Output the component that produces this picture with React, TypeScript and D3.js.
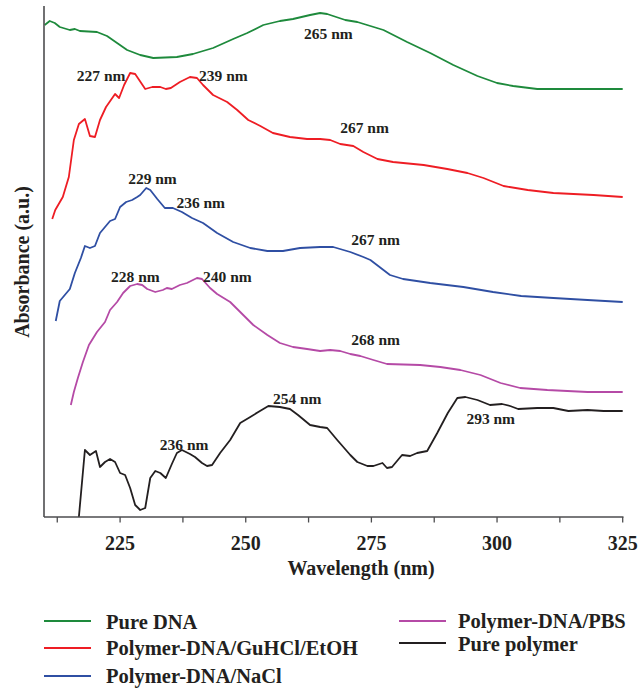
import * as d3 from 'd3';

// wavelength (nm) sample points for each trace
const dnaWl = [210, 211, 212, 213, 215, 216, 217, 220.4, 222.4, 224.4, 226.4, 229, 231.6, 236.3, 239.5, 243.5, 247.5, 250.3, 253.5, 256.8, 259.4, 262.8, 264.8, 266.2, 267.4, 269.8, 272.2, 277.4, 282.1, 286.7, 291.3, 296.1, 300, 303.2, 308, 314.6, 325];
const dnaAbs = [4.92, 4.96, 4.94, 4.9, 4.87, 4.88, 4.86, 4.85, 4.81, 4.74, 4.67, 4.62, 4.59, 4.6, 4.63, 4.69, 4.78, 4.84, 4.92, 4.96, 4.98, 5.02, 5.04, 5.03, 5.01, 4.97, 4.95, 4.87, 4.75, 4.64, 4.52, 4.41, 4.34, 4.31, 4.28, 4.28, 4.28];

const guWl = [211.5, 212.1, 213.6, 214.8, 215.8, 216.8, 218, 219, 220, 221, 222.2, 224, 224.8, 225.8, 227, 228, 230, 231.4, 233, 234.1, 235.1, 236.9, 238.9, 240.3, 241.5, 243.5, 246.3, 248.3, 250.5, 252.9, 255.4, 258.8, 262.2, 264.8, 266.8, 268.8, 271.4, 273.4, 276.2, 279.3, 285.4, 290.1, 294.1, 297.3, 301.3, 306.1, 311.2, 319.2, 325];
const guAbs = [2.98, 3.07, 3.2, 3.4, 3.77, 3.93, 3.98, 3.81, 3.8, 3.97, 4.1, 4.23, 4.19, 4.32, 4.44, 4.43, 4.28, 4.3, 4.3, 4.28, 4.29, 4.35, 4.4, 4.39, 4.32, 4.22, 4.15, 4.07, 3.97, 3.91, 3.84, 3.8, 3.78, 3.78, 3.77, 3.73, 3.71, 3.65, 3.58, 3.55, 3.52, 3.48, 3.44, 3.39, 3.31, 3.27, 3.24, 3.22, 3.2];

const naclWl = [212.2, 213, 215, 216, 217.2, 218, 219, 220, 221, 223, 224, 225, 226.2, 227.4, 228.4, 229, 230.2, 231, 232.4, 233.9, 235.5, 237.3, 239.3, 241.5, 244.3, 247.5, 250.9, 254.3, 257.4, 260.8, 264.8, 267.4, 270.8, 273.4, 274.8, 278.7, 281.3, 286.7, 293.3, 299.2, 304.8, 311.2, 318, 325];
const naclAbs = [1.96, 2.16, 2.28, 2.44, 2.59, 2.71, 2.69, 2.71, 2.84, 2.96, 2.98, 3.1, 3.15, 3.17, 3.2, 3.22, 3.29, 3.27, 3.18, 3.09, 3.09, 3.05, 2.99, 2.94, 2.84, 2.75, 2.69, 2.66, 2.66, 2.69, 2.7, 2.7, 2.65, 2.6, 2.57, 2.42, 2.38, 2.34, 2.3, 2.25, 2.21, 2.19, 2.17, 2.15];

const pbsWl = [215.2, 215.8, 216.6, 217.6, 218.8, 220.4, 222, 223, 224.4, 225.6, 227, 228.4, 229.4, 230.4, 232, 233.5, 234.3, 235.3, 236.9, 238.3, 240.3, 241.3, 242.9, 244.3, 246.9, 248.9, 251.5, 254.3, 256.8, 259.4, 262.2, 264.8, 266.8, 268.8, 270.8, 272.8, 275.4, 278.1, 284.7, 288.7, 292.7, 296.7, 300.7, 304.6, 310, 318, 325];
const pbsAbs = [1.12, 1.25, 1.39, 1.55, 1.72, 1.85, 1.95, 2.07, 2.15, 2.24, 2.31, 2.33, 2.32, 2.28, 2.25, 2.27, 2.29, 2.28, 2.32, 2.34, 2.39, 2.38, 2.29, 2.23, 2.15, 2.05, 1.92, 1.82, 1.74, 1.7, 1.68, 1.66, 1.67, 1.66, 1.63, 1.61, 1.57, 1.53, 1.52, 1.5, 1.47, 1.42, 1.34, 1.29, 1.27, 1.25, 1.25];

const polyWl = [216.8, 218, 219, 220.2, 221, 222, 223, 224, 225, 226, 227, 228, 229, 230, 231, 232, 233, 234.1, 235.3, 236.3, 237.3, 238.9, 239.9, 241.3, 242.3, 243.3, 244.9, 246.9, 248.9, 250.9, 252.5, 254.5, 256.8, 258.8, 260.4, 262.8, 264.8, 266.2, 268.2, 270.8, 272.2, 274.2, 275.4, 277.2, 278.1, 279.1, 281.1, 282.7, 284.1, 286.1, 288.1, 290.2, 292.1, 293.7, 296.1, 298.6, 301, 302.6, 304.2, 308, 311.2, 314.2, 318, 321.2, 325];
const polyAbs = [0, 0.67, 0.62, 0.66, 0.5, 0.55, 0.58, 0.55, 0.44, 0.42, 0.29, 0.12, 0.07, 0.09, 0.39, 0.46, 0.44, 0.39, 0.53, 0.64, 0.67, 0.63, 0.6, 0.54, 0.51, 0.52, 0.64, 0.77, 0.94, 1.0, 1.05, 1.11, 1.1, 1.08, 1.02, 0.92, 0.9, 0.89, 0.77, 0.62, 0.55, 0.51, 0.51, 0.54, 0.49, 0.5, 0.62, 0.61, 0.64, 0.66, 0.84, 1.04, 1.19, 1.2, 1.17, 1.12, 1.13, 1.11, 1.08, 1.09, 1.09, 1.06, 1.07, 1.06, 1.06];

const seriesNames = ['Pure DNA', 'Polymer-DNA/GuHCl/EtOH', 'Polymer-DNA/NaCl', 'Polymer-DNA/PBS', 'Pure polymer'];
const seriesColors = ['#1e8a3c', '#ee1d24', '#2f4fa3', '#b54aa6', '#231f20'];
const seriesWl = [dnaWl, guWl, naclWl, pbsWl, polyWl];
const seriesAbs = [dnaAbs, guAbs, naclAbs, pbsAbs, polyAbs];

// peak annotations: label, wavelength, absorbance position of text
const peakLabels = ['265 nm', '227 nm', '239 nm', '267 nm', '229 nm', '236 nm', '267 nm', '228 nm', '240 nm', '268 nm', '254 nm', '236 nm', '293 nm'];
const peakWl = [261.6, 216.4, 240.7, 268.8, 226.6, 236.2, 271, 223.2, 241.5, 271, 255.4, 232.9, 293.9];
const peakAbs = [4.78, 4.36, 4.36, 3.84, 3.33, 3.09, 2.72, 2.35, 2.35, 1.72, 1.13, 0.67, 0.93];

const xTicks = [212.5, 225, 237.5, 250, 262.5, 275, 287.5, 300, 312.5, 325];

export default function App() {
  const width = 638;
  const height = 688;
  const font = '"Liberation Serif", "Times New Roman", serif';
  const ink = '#231f20';

  const x = d3.scaleLinear().domain([210, 325]).range([44.7, 622.7]);
  const y = d3.scaleLinear().domain([0, 5.11]).range([517, 6]);

  const line = d3
    .line<[number, number]>()
    .x((d) => x(d[0]))
    .y((d) => y(d[1]));

  // legend layout: two columns
  const legendPos = [
    { lx: 44, ly: 621, tx: 106, ty: 629 },
    { lx: 44, ly: 648, tx: 106, ty: 655 },
    { lx: 44, ly: 676, tx: 106, ty: 683 },
    { lx: 399, ly: 621, tx: 458, ty: 628 },
    { lx: 399, ly: 643, tx: 458, ty: 651 },
  ];

  return (
    <svg
      width={width}
      height={height}
      style={{ position: 'absolute', left: 0, top: 0, background: '#fff' }}
      fontFamily={font}
    >
      {/* curves */}
      {seriesNames.map((name, i) => (
        <path
          key={name}
          d={line(seriesWl[i].map((w, j) => [w, seriesAbs[i][j]] as [number, number])) || ''}
          fill='none'
          stroke={seriesColors[i]}
          strokeWidth={1.8}
          strokeLinejoin='round'
        />
      ))}

      {/* axes */}
      <line x1={44} x2={44} y1={6} y2={517} stroke='#4d4d4f' strokeWidth={1.6} />
      <line x1={44} x2={623.5} y1={517} y2={517} stroke='#4d4d4f' strokeWidth={1.6} />
      {xTicks.map((t) => (
        <g key={t} transform={`translate(${x(t)},517)`}>
          <line y2={5.5} stroke='#4d4d4f' strokeWidth={1.3} />
          {t % 25 === 0 && (
            <text y={33} textAnchor='middle' fontSize={20} fontWeight='bold' fill={ink}>
              {t}
            </text>
          )}
        </g>
      ))}

      <text x={361} y={575} textAnchor='middle' fontSize={20} fontWeight='bold' fill={ink}>
        Wavelength (nm)
      </text>
      <text
        transform='translate(29,262) rotate(-90)'
        textAnchor='middle'
        fontSize={20}
        fontWeight='bold'
        fill={ink}
      >
        Absorbance (a.u.)
      </text>

      {/* peak annotations */}
      {peakLabels.map((lab, i) => (
        <text key={i} x={x(peakWl[i])} y={y(peakAbs[i])} fontSize={15.5} fontWeight='bold' fill={ink}>
          {lab}
        </text>
      ))}

      {/* legend */}
      {seriesNames.map((name, i) => (
        <g key={name}>
          <line
            x1={legendPos[i].lx}
            x2={legendPos[i].lx + 47}
            y1={legendPos[i].ly}
            y2={legendPos[i].ly}
            stroke={seriesColors[i]}
            strokeWidth={2}
          />
          <text x={legendPos[i].tx} y={legendPos[i].ty} fontSize={20.5} fontWeight='bold' fill={ink}>
            {name}
          </text>
        </g>
      ))}
    </svg>
  );
}
